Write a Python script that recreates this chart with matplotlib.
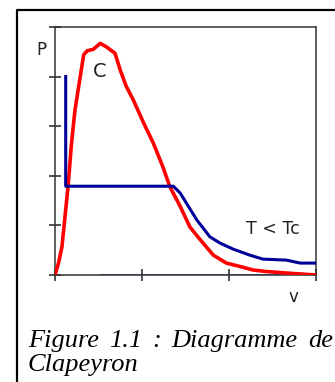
import matplotlib
matplotlib.use('Agg')
from matplotlib import pyplot as plt
from matplotlib.lines import Line2D

# saturation dome (red)
dome_v = [0.00, 0.04, 0.08, 0.115, 0.15, 0.19, 0.23, 0.29, 0.33, 0.37, 0.44,
          0.52, 0.59, 0.69, 0.75, 0.82, 0.90, 1.02, 1.13, 1.24, 1.32, 1.44,
          1.55, 1.67, 1.82, 1.97, 2.13, 2.28, 2.43, 2.74, 3.00]
dome_p = [0.00, 0.24, 0.57, 1.18, 1.78, 2.66, 3.33, 4.00, 4.44, 4.52, 4.55,
          4.67, 4.60, 4.47, 4.13, 3.80, 3.53, 3.06, 2.66, 2.18, 1.78, 1.38,
          0.97, 0.71, 0.40, 0.24, 0.17, 0.10, 0.07, 0.03, 0.00]

# isotherm below the critical temperature (blue)
iso_v = [0.123, 0.123, 1.36, 1.44, 1.51, 1.63, 1.78, 1.90, 2.05, 2.24, 2.39,
         2.66, 2.82, 3.00]
iso_p = [4.00, 1.79, 1.79, 1.65, 1.45, 1.11, 0.77, 0.64, 0.52, 0.40, 0.32,
         0.30, 0.24, 0.24]

x_ticks = [0, 1, 2, 3]
y_ticks = [0, 1, 2, 3, 4, 5]

caption_line1 = ['Figure', '1.1', ':', 'Diagramme', 'de']
caption_line2 = 'Clapeyron'

W, H = 335, 382
fig = plt.figure(figsize=(W / 100, H / 100), dpi=100)
ax = fig.add_axes([55 / W, 1 - 275 / H, 261 / W, 248 / H])

ax.plot(dome_v, dome_p, color='#ff0000', lw=2.6, zorder=3)
ax.plot(iso_v, iso_p, color='#000099', lw=2.2, zorder=4)
ax.plot([0.53, 3.0], [0, 0], color='#3333bb', lw=1.2, zorder=2)

ax.set_xlim(0, 3)
ax.set_ylim(0, 5)
ax.set_xticks(x_ticks)
ax.set_yticks(y_ticks)
ax.set_xticklabels([])
ax.set_yticklabels([])
ax.tick_params(axis='x', direction='inout', length=9, width=1.2, color='#333333')
ax.tick_params(axis='y', direction='inout', length=8, width=1.2, color='#333333')
for s in ax.spines.values():
    s.set_color('#333333')
    s.set_linewidth(1.1)

lab = dict(ha='center', va='center', color='#222222')
ax.text(-0.16, 4.53, 'P', fontsize=12, **lab)
ax.text(0.51, 4.10, 'C', fontsize=14, **lab)
ax.text(2.51, 0.93, 'T < Tc', fontsize=12.5, **lab)
ax.text(2.74, -0.45, 'v', fontsize=12, **lab)

# outer frame of the figure box
fig.add_artist(Line2D([17 / W, 17 / W, 1], [0, 1 - 10 / H, 1 - 10 / H],
                      color='black', lw=1.6, transform=fig.transFigure))

# justified caption: spread the words of the first line between x0 and x1
cap = dict(family='Liberation Serif', style='italic', fontsize=19, ha='left', va='baseline')
x0, x1 = 28, 333
renderer = fig.canvas.get_renderer()
words = [fig.text(0, 1 - 347 / H, w, **cap) for w in caption_line1]
widths = [t.get_window_extent(renderer).width for t in words]
gap = (x1 - x0 - sum(widths)) / (len(words) - 1)
x = x0
for t, w in zip(words, widths):
    t.set_x(x / W)
    x += w + gap
fig.text(x0 / W, 1 - 371 / H, caption_line2, **cap)

fig.savefig('out.png', dpi=100)
